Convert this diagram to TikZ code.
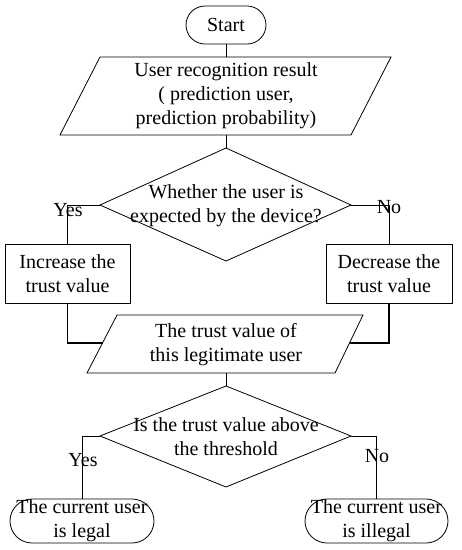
\documentclass[tikz,border=0pt]{standalone}
\usepackage{fontspec}
\setmainfont{Liberation Serif}
\begin{document}
\begin{tikzpicture}[x=1pt,y=-1pt,line width=0.8pt,
  txt/.style={align=center,inner sep=0pt,font=\fontsize{20}{24}\selectfont},
  lbl/.style={inner sep=0pt,font=\fontsize{20}{24}\selectfont},
  procbox/.style={draw,align=center,inner sep=0pt,font=\fontsize{20}{24}\selectfont},
  termbox/.style={draw,rounded corners=#1,align=center,inner sep=0pt,font=\fontsize{20}{24}\selectfont},
  thick line/.style={line width=1.8pt}]
\useasboundingbox (0,0) rectangle (462,550);
% Start
\node[termbox=19pt,minimum width=80pt,minimum height=38pt] (start) at (226,25) {Start};
% Parallelogram 1
\draw (100,57) -- (391,57) -- (351,135) -- (60,135) -- cycle;
\node[txt] (p1) at (226,96) {User recognition result\\( prediction user,\\prediction probability)};
\coordinate (p1top) at (226,57);
\coordinate (p1bot) at (226,135);
% Diamond 1
\draw (226,148) -- (351,205) -- (226,261) -- (100,205) -- cycle;
\coordinate (d1top) at (226,148);
\coordinate (d1left) at (100,205);
\coordinate (d1right) at (351,205);
\node[txt] (d1) at (226,206) {Whether the user is\\expected by the device?};
% Boxes
\node[procbox,minimum width=125pt,minimum height=59pt] (inc) at (67.5,273.5) {Increase the\\trust value};
\node[procbox,minimum width=126pt,minimum height=59pt] (dec) at (389,273.5) {Decrease the\\trust value};
% Parallelogram 2
\draw (117,315) -- (363,315) -- (335,373) -- (87,373) -- cycle;
\node[txt] (p2) at (226,345) {The trust value of\\this legitimate user};
\coordinate (p2left) at (102.5,343);
\coordinate (p2right) at (349.5,343);
\coordinate (p2bot) at (226,373);
% Diamond 2
\draw (226,386) -- (351,436) -- (226,487) -- (100,436) -- cycle;
\coordinate (d2top) at (226,386);
\coordinate (d2left) at (100,436);
\coordinate (d2right) at (351,436);
\node[txt] (d2) at (226,437) {Is the trust value above\\the threshold};
% Terminals
\node[termbox=22pt,minimum width=144pt,minimum height=44pt] (legal) at (82,521) {The current user\\is legal};
\node[termbox=22pt,minimum width=143pt,minimum height=44pt] (illegal) at (376.5,521) {The current user\\is illegal};
% Connectors
\draw (start.south) -- (p1top);
\draw (p1bot) -- (d1top);
\draw (d1left) -| (inc.north);
\draw (d1right) -| (dec.north);
\draw[thick line] (inc.south) |- (p2left);
\draw[thick line] (dec.south) |- (p2right);
\draw (p2bot) -- (d2top);
\draw (d2left) -| (legal.north);
\draw (d2right) -| (illegal.north);
% Labels
\node[lbl] (y1) at (68,210) {Yes};
\node[lbl] (n1) at (389,207) {No};
\node[lbl] (y2) at (83,460) {Yes};
\node[lbl] (n2) at (377,456) {No};
\end{tikzpicture}
\end{document}
